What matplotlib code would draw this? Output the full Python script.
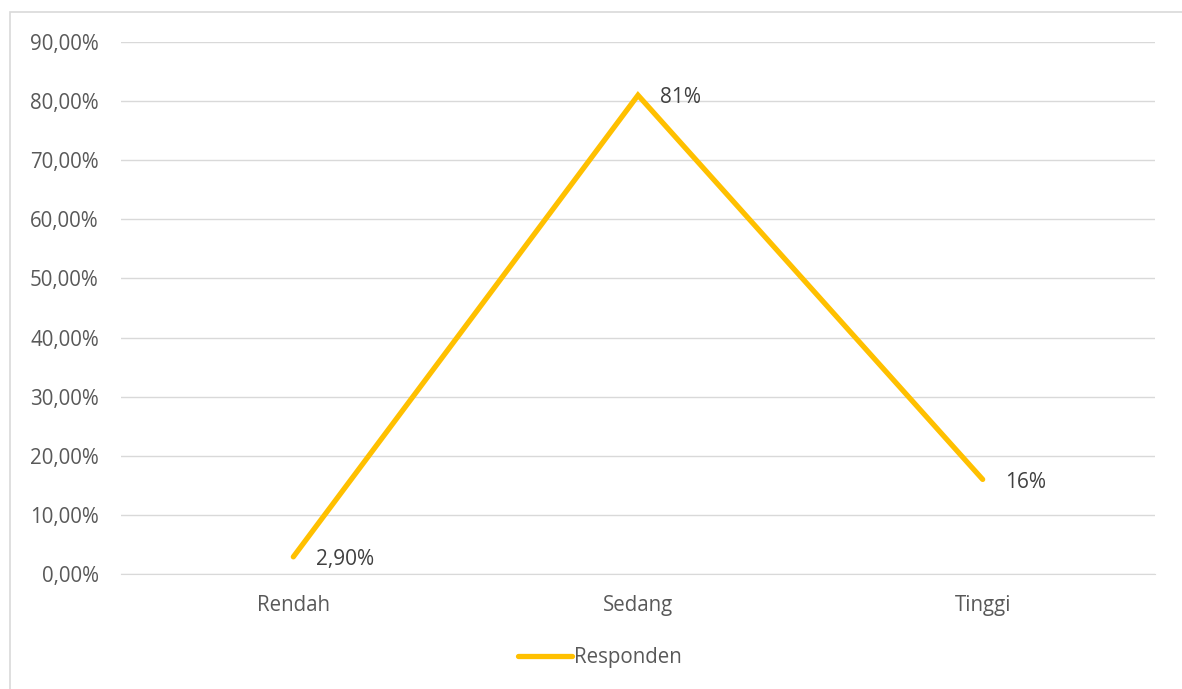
import matplotlib.pyplot as plt
from matplotlib.patches import Rectangle
from matplotlib.ticker import FuncFormatter

kategori = ["Rendah", "Sedang", "Tinggi"]
responden = [2.9, 81, 16]
label_nilai = ["2,90%", "81%", "16%"]

plt.rcParams['font.family'] = ['Open Sans', 'DejaVu Sans']

fig = plt.figure(figsize=(11.82, 6.89), dpi=100)
ax = fig.add_axes([121/1182, 115/689, 1034/1182, 532/689])

x = list(range(len(kategori)))
ax.plot(x, responden, color='#FFC000', lw=3.8, solid_capstyle='round',
        solid_joinstyle='miter', label='Responden', zorder=3)

for xi, yi, t in zip(x, responden, label_nilai):
    ax.annotate(t, (xi, yi), xytext=(16, -2), textcoords='offset points',
                ha='left', va='center', fontsize=15, color='#404040')

ax.set_xlim(-0.5, 2.5)
ax.set_ylim(0, 90)
ax.set_yticks(range(0, 91, 10))
ax.yaxis.set_major_formatter(FuncFormatter(lambda v, p: f"{v:.2f}%".replace('.', ',')))
ax.set_xticks(x)
ax.set_xticklabels(kategori)
ax.tick_params(axis='y', length=0, pad=16, labelsize=14.8, labelcolor='#595959')
ax.tick_params(axis='x', length=0, pad=15, labelsize=14.8, labelcolor='#595959')
ax.grid(axis='y', color='#D9D9D9', lw=1)
ax.set_axisbelow(True)
for s in ['top', 'right', 'left']:
    ax.spines[s].set_visible(False)
ax.spines['bottom'].set_color('#D9D9D9')

leg = fig.legend(loc='center', bbox_to_anchor=(600/1182, 1 - 658/689), frameon=False,
                 fontsize=14.8, handlelength=2.6, handletextpad=0.1)
for t in leg.get_texts():
    t.set_color('#595959')

# chart frame
fig.add_artist(Rectangle((10/1182, -0.1), 1.2, 1.1 - 12/689, transform=fig.transFigure,
                         fill=False, edgecolor='#D9D9D9', lw=1.2))

fig.savefig('out.png', dpi=100)
